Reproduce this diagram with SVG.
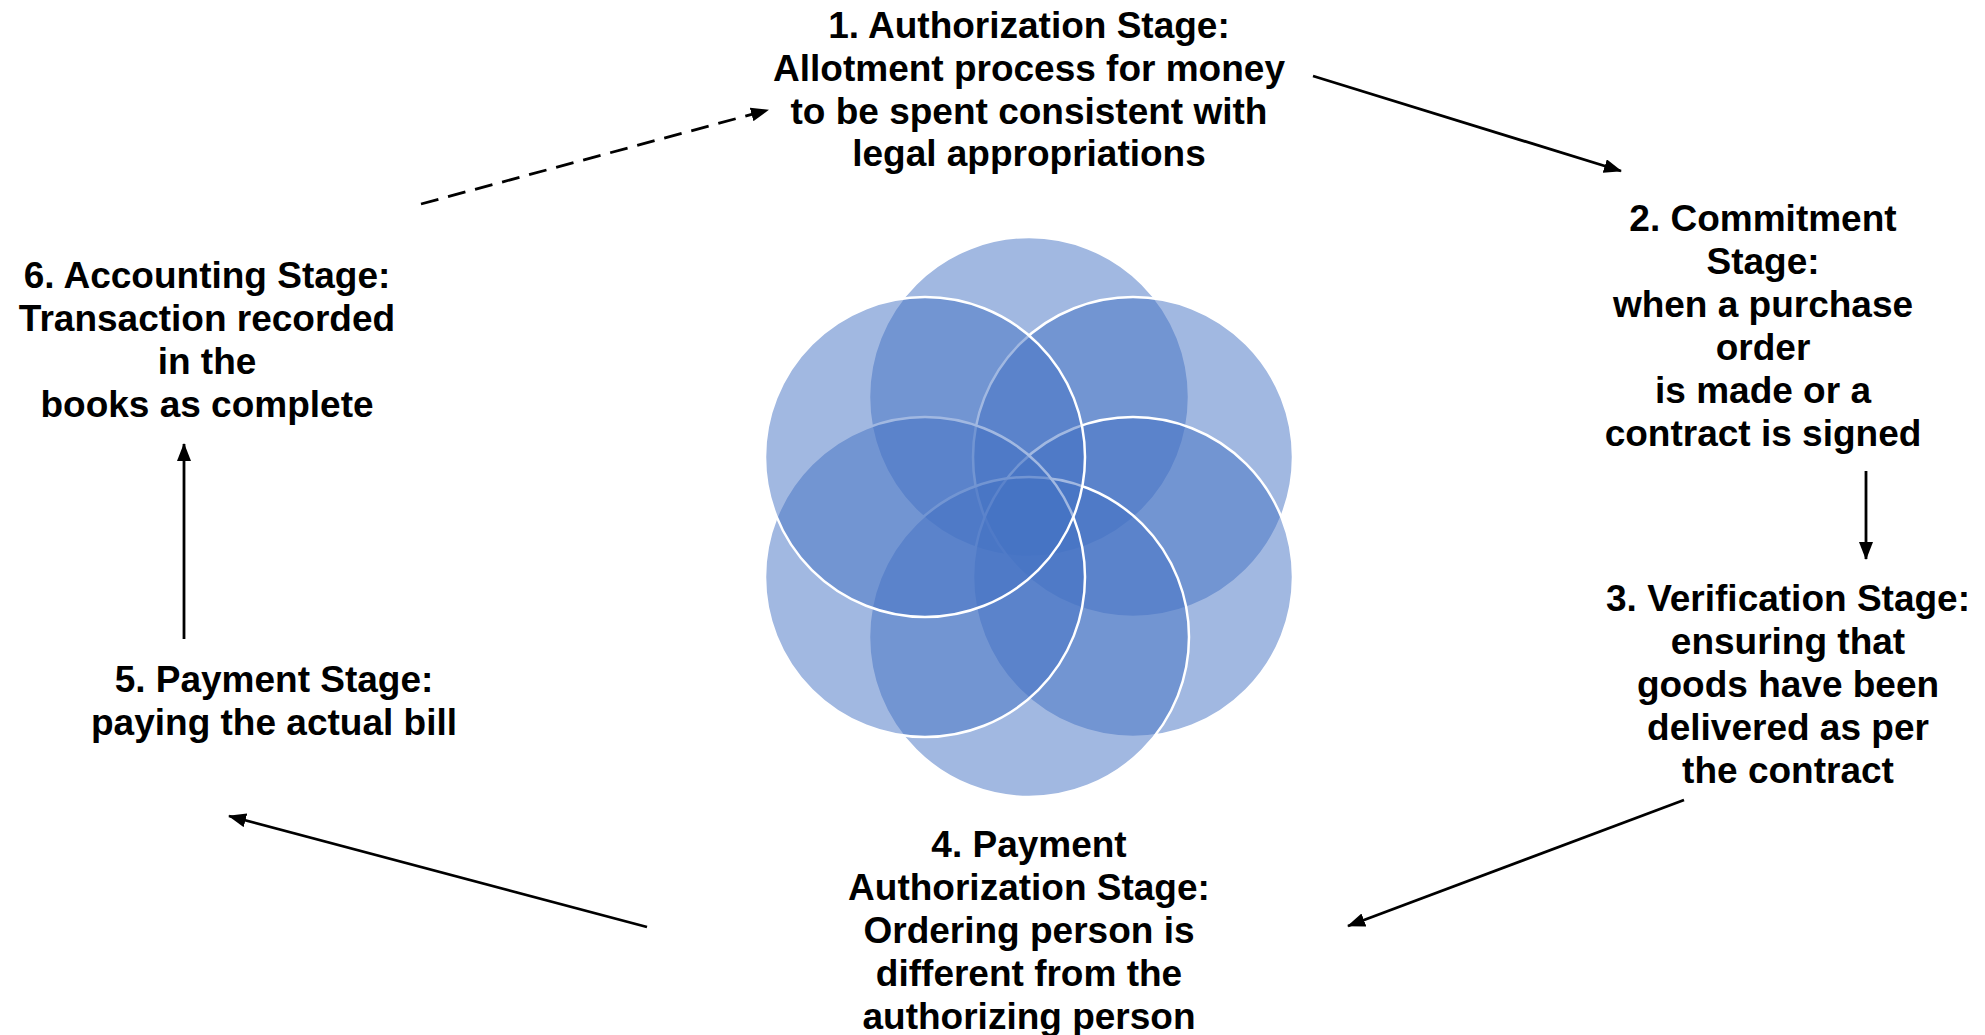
<svg xmlns="http://www.w3.org/2000/svg" width="1985" height="1035" viewBox="0 0 1985 1035">
  <style>
    .lbl { font-family: "Liberation Sans", Arial, sans-serif; font-weight: bold; font-size: 37px; fill: #000; text-anchor: middle; }
    .petal { fill: #4472C4; fill-opacity: 0.5; stroke: #FFFFFF; stroke-width: 2.5; }
    .link { stroke: #000; stroke-width: 2.8; fill: none; marker-end: url(#head); }
    .dashed { stroke-dasharray: 18 10; }
  </style>
  <defs>
    <marker id="head" markerUnits="userSpaceOnUse" markerWidth="18" markerHeight="14" refX="17" refY="7" orient="auto">
      <path d="M0,0 L18,7 L0,14 Z" fill="#000"/>
    </marker>
  </defs>
  <rect width="1985" height="1035" fill="#FFFFFF"/>

  <!-- six overlapping circles, drawn clockwise from the top -->
  <g id="flower">
    <circle class="petal" cx="1029" cy="397" r="160"/>
    <circle class="petal" cx="1133" cy="457" r="160"/>
    <circle class="petal" cx="1133" cy="577" r="160"/>
    <circle class="petal" cx="1029" cy="637" r="160"/>
    <circle class="petal" cx="925" cy="577" r="160"/>
    <circle class="petal" cx="925" cy="457" r="160"/>
  </g>

  <g id="connectors">
    <line class="link dashed" x1="421" y1="204" x2="768" y2="110"/>
    <line class="link" x1="1313" y1="76" x2="1621" y2="171"/>
    <line class="link" x1="1866" y1="471" x2="1866" y2="559"/>
    <line class="link" x1="1684" y1="800" x2="1348" y2="926"/>
    <line class="link" x1="647" y1="927" x2="229" y2="816"/>
    <line class="link" x1="184" y1="639" x2="184" y2="444"/>
  </g>

  <g id="stage1">
    <text class="lbl" x="1029" y="38">1. Authorization Stage:</text>
    <text class="lbl" x="1029" y="81">Allotment process for money</text>
    <text class="lbl" x="1029" y="124">to be spent consistent with</text>
    <text class="lbl" x="1029" y="166">legal appropriations</text>
  </g>

  <g id="stage2">
    <text class="lbl" x="1763" y="231">2. Commitment</text>
    <text class="lbl" x="1763" y="274">Stage:</text>
    <text class="lbl" x="1763" y="317">when a purchase</text>
    <text class="lbl" x="1763" y="360">order</text>
    <text class="lbl" x="1763" y="403">is made or a</text>
    <text class="lbl" x="1763" y="446">contract is signed</text>
  </g>

  <g id="stage3">
    <text class="lbl" x="1788" y="611">3. Verification Stage:</text>
    <text class="lbl" x="1788" y="654">ensuring that</text>
    <text class="lbl" x="1788" y="697">goods have been</text>
    <text class="lbl" x="1788" y="740">delivered as per</text>
    <text class="lbl" x="1788" y="783">the contract</text>
  </g>

  <g id="stage4">
    <text class="lbl" x="1029" y="857">4. Payment</text>
    <text class="lbl" x="1029" y="900">Authorization Stage:</text>
    <text class="lbl" x="1029" y="943">Ordering person is</text>
    <text class="lbl" x="1029" y="986">different from the</text>
    <text class="lbl" x="1029" y="1029">authorizing person</text>
  </g>

  <g id="stage5">
    <text class="lbl" x="274" y="692">5. Payment Stage:</text>
    <text class="lbl" x="274" y="735">paying the actual bill</text>
  </g>

  <g id="stage6">
    <text class="lbl" x="207" y="288">6. Accounting Stage:</text>
    <text class="lbl" x="207" y="331">Transaction recorded</text>
    <text class="lbl" x="207" y="374">in the</text>
    <text class="lbl" x="207" y="417">books as complete</text>
  </g>
</svg>
